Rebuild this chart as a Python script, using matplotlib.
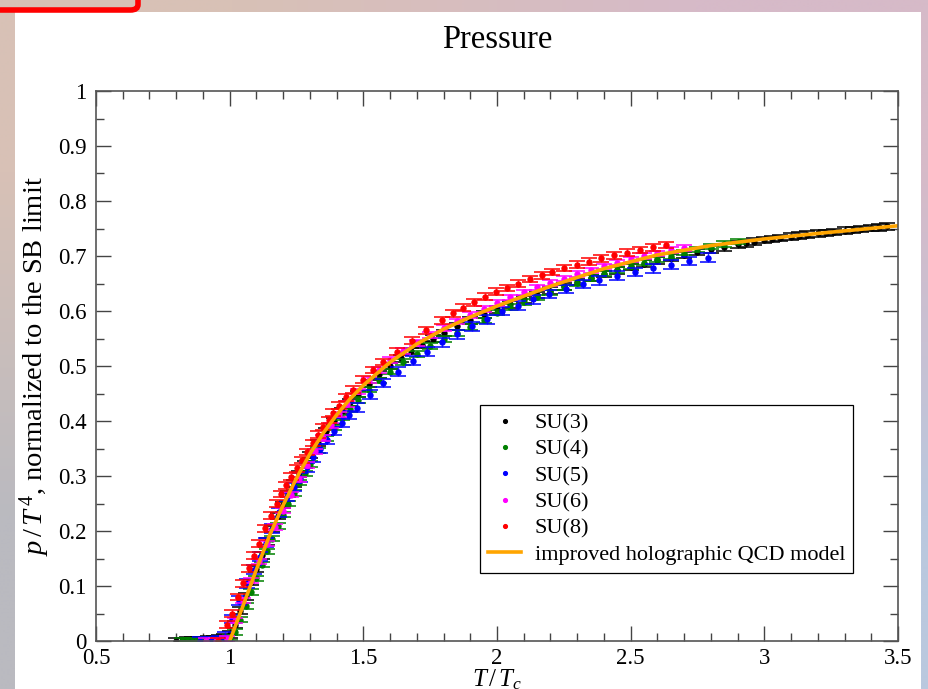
#!/usr/bin/env python
# Pressure p/T^4 of SU(N) gauge theories vs T/Tc, with the holographic curve
import numpy as np
import matplotlib
matplotlib.use('Agg')
from matplotlib import pyplot as plt
from matplotlib import patches

plt.rcParams['font.family'] = ['Liberation Serif', 'DejaVu Serif']
plt.rcParams['mathtext.fontset'] = 'custom'
plt.rcParams['mathtext.rm'] = 'Liberation Serif'
plt.rcParams['mathtext.it'] = 'Liberation Serif:italic'

# SU(3)
x3 = [0.80, 0.82, 0.84, 0.86, 0.88, 0.90, 0.92, 0.94, 0.96, 0.98, 1.00,
      1.02, 1.04, 1.06, 1.08, 1.10, 1.12, 1.14, 1.16, 1.18, 1.20, 1.22, 1.24,
      1.26, 1.28, 1.30, 1.33, 1.36, 1.39, 1.42, 1.45, 1.48, 1.52, 1.56, 1.60,
      1.64, 1.68, 1.72, 1.76, 1.80, 1.85, 1.90, 1.95, 2.00, 2.05, 2.10, 2.15,
      2.20, 2.25, 2.30, 2.35, 2.40, 2.45, 2.50, 2.55, 2.60, 2.65, 2.70, 2.75,
      2.80, 2.85, 2.90, 2.93, 2.96, 3.00, 3.03, 3.06, 3.10, 3.13, 3.16, 3.20,
      3.23, 3.26, 3.30, 3.33, 3.36, 3.40, 3.43, 3.46]
y3 = [0.000, 0.000, 0.001, 0.001, 0.002, 0.002, 0.003, 0.004, 0.005, 0.007, 0.012,
      0.030, 0.055, 0.081, 0.107, 0.131, 0.156, 0.181, 0.204, 0.227, 0.247, 0.267, 0.286,
      0.304, 0.321, 0.338, 0.360, 0.381, 0.400, 0.418, 0.434, 0.449, 0.468, 0.485, 0.500,
      0.514, 0.527, 0.539, 0.550, 0.560, 0.572, 0.583, 0.594, 0.603, 0.612, 0.621, 0.629,
      0.637, 0.645, 0.653, 0.660, 0.667, 0.674, 0.680, 0.686, 0.692, 0.697, 0.702, 0.707,
      0.712, 0.716, 0.721, 0.723, 0.726, 0.729, 0.731, 0.733, 0.735, 0.737, 0.739, 0.741,
      0.742, 0.744, 0.746, 0.747, 0.749, 0.751, 0.752, 0.754]

# SU(4)
x4 = [0.82, 0.84, 0.86, 0.88, 0.90, 0.92, 0.94, 0.96, 0.98, 1.00, 1.02, 1.04,
      1.06, 1.08, 1.10, 1.12, 1.14, 1.16, 1.18, 1.20, 1.22, 1.24, 1.26, 1.28,
      1.30, 1.33, 1.36, 1.39, 1.42, 1.45, 1.48, 1.52, 1.56, 1.60, 1.65, 1.70,
      1.75, 1.80, 1.85, 1.90, 1.95, 2.00, 2.05, 2.10, 2.15, 2.20, 2.25, 2.30,
      2.35, 2.40, 2.45, 2.50, 2.55, 2.60, 2.65, 2.70, 2.75, 2.80, 2.85, 2.90]
y4 = [0.000, 0.000, 0.000, 0.001, 0.001, 0.002, 0.002, 0.003, 0.004, 0.006, 0.016, 0.039,
      0.064, 0.089, 0.114, 0.139, 0.163, 0.186, 0.209, 0.230, 0.250, 0.269, 0.288, 0.305,
      0.322, 0.346, 0.368, 0.388, 0.406, 0.422, 0.438, 0.457, 0.474, 0.490, 0.507, 0.522,
      0.536, 0.549, 0.560, 0.571, 0.583, 0.597, 0.607, 0.616, 0.625, 0.634, 0.643, 0.651,
      0.660, 0.668, 0.675, 0.682, 0.688, 0.694, 0.700, 0.706, 0.712, 0.717, 0.722, 0.726]

# SU(5)
x5 = [0.89, 0.93, 0.96, 0.983, 1.008, 1.035, 1.064, 1.09, 1.113, 1.135, 1.157,
      1.186, 1.216, 1.24, 1.263, 1.288, 1.313, 1.338, 1.363, 1.39, 1.419, 1.447,
      1.475, 1.525, 1.575, 1.631, 1.685, 1.739, 1.793, 1.849, 1.906, 1.962, 2.020,
      2.078, 2.136, 2.196, 2.258, 2.321, 2.383, 2.450, 2.516, 2.583, 2.651, 2.720,
      2.791]
y5 = [0.000, 0.000, 0.002, 0.008, 0.040, 0.073, 0.105, 0.130, 0.153, 0.179, 0.204,
      0.234, 0.262, 0.280, 0.297, 0.316, 0.334, 0.350, 0.366, 0.382, 0.397, 0.411,
      0.424, 0.448, 0.469, 0.490, 0.510, 0.526, 0.543, 0.558, 0.572, 0.585, 0.600,
      0.610, 0.621, 0.631, 0.640, 0.649, 0.656, 0.664, 0.671, 0.678, 0.684, 0.691,
      0.697]

# SU(6)
x6 = [0.911, 0.949, 0.99, 1.02, 1.05, 1.08, 1.11, 1.14, 1.17, 1.20, 1.23, 1.26,
      1.29, 1.32, 1.35, 1.38, 1.41, 1.44, 1.48, 1.52, 1.56, 1.60, 1.65, 1.70,
      1.75, 1.80, 1.85, 1.90, 1.95, 2.00, 2.05, 2.10, 2.15, 2.20, 2.25, 2.30,
      2.35, 2.40, 2.45, 2.50, 2.55, 2.60, 2.65, 2.70]
y6 = [0.000, 0.000, 0.004, 0.037, 0.074, 0.110, 0.145, 0.177, 0.207, 0.237, 0.266, 0.294,
      0.320, 0.345, 0.369, 0.392, 0.412, 0.431, 0.454, 0.475, 0.493, 0.511, 0.527, 0.542,
      0.556, 0.569, 0.581, 0.593, 0.604, 0.615, 0.625, 0.634, 0.643, 0.651, 0.659, 0.667,
      0.674, 0.681, 0.688, 0.694, 0.700, 0.705, 0.711, 0.715]

# SU(8)
x8 = [0.957, 0.990, 1.010, 1.030, 1.050, 1.074, 1.092, 1.111, 1.132, 1.154, 1.176,
      1.193, 1.211, 1.231, 1.251, 1.270, 1.288, 1.310, 1.330, 1.350, 1.370, 1.388,
      1.410, 1.437, 1.463, 1.500, 1.537, 1.575, 1.627, 1.681, 1.735, 1.793, 1.837,
      1.874, 1.914, 1.955, 1.995, 2.036, 2.077, 2.124, 2.167, 2.207, 2.252, 2.298,
      2.345, 2.390, 2.437, 2.485, 2.535, 2.583, 2.633]
y8 = [0.000, 0.030, 0.050, 0.080, 0.105, 0.132, 0.155, 0.177, 0.205, 0.228, 0.250,
      0.267, 0.283, 0.299, 0.314, 0.329, 0.344, 0.360, 0.375, 0.389, 0.402, 0.415,
      0.428, 0.443, 0.457, 0.475, 0.493, 0.507, 0.526, 0.546, 0.565, 0.583, 0.596,
      0.606, 0.616, 0.626, 0.635, 0.642, 0.650, 0.658, 0.665, 0.671, 0.678, 0.684,
      0.690, 0.696, 0.701, 0.706, 0.711, 0.716, 0.720]

# improved holographic QCD model
x_ihqcd = [1.00, 1.05, 1.10, 1.15, 1.20, 1.25, 1.30, 1.35, 1.40, 1.45, 1.50, 1.60,
           1.70, 1.80, 1.90, 2.00, 2.10, 2.20, 2.40, 2.60, 2.80, 3.00, 3.20, 3.50]
y_ihqcd = [0.000, 0.064, 0.130, 0.193, 0.247, 0.296, 0.340, 0.378, 0.411, 0.440, 0.465, 0.507,
           0.540, 0.567, 0.589, 0.609, 0.627, 0.645, 0.677, 0.702, 0.719, 0.731, 0.741, 0.755]

series = [
    (x3, y3, 0.006, 'black', 'SU(3)'),
    (x4, y4, 0.005, 'green', 'SU(4)'),
    (x5, y5, 0.008, 'blue', 'SU(5)'),
    (x6, y6, 0.005, 'magenta', 'SU(6)'),
    (x8, y8, 0.006, 'red', 'SU(8)'),
]

fig = plt.figure(figsize=(9.29, 6.89), dpi=100)

# screenshot-like background: gradient border, white page, red frame corner
bg = fig.add_axes([0, 0, 1, 1])
grad = np.array([[[216, 193, 182], [214, 186, 200]],
                 [[186, 186, 192], [186, 200, 222]]]) / 255.0
bg.imshow(grad, extent=[0, 1, 0, 1], aspect='auto', interpolation='bilinear')
bg.add_patch(patches.Rectangle((15 / 929, 0), 906 / 929, 677 / 689,
                               facecolor='white', edgecolor='none'))
bg.add_patch(patches.FancyBboxPatch((-0.05, 1 - 10 / 689), 0.05 + 138 / 929, 0.1,
                                    boxstyle='round,pad=0,rounding_size=0.008',
                                    facecolor='none', edgecolor='#ff0000', linewidth=4))
bg.set_xlim(0, 1)
bg.set_ylim(0, 1)
bg.axis('off')

ax = fig.add_axes([96 / 929, 48 / 689, 802 / 929, 550 / 689])

for xs, ys, err, col, lab in series:
    ax.errorbar(xs, ys, yerr=err, fmt='none', ecolor=col, elinewidth=1,
                capsize=5.5, capthick=1.3, alpha=0.85)
    ax.plot(xs, ys, 'o', color=col, markersize=3.6, label=lab)

ax.plot(x_ihqcd, y_ihqcd, color='orange', linewidth=2.6,
        label='improved holographic QCD model')

ax.set_xlim(0.5, 3.5)
ax.set_ylim(0, 1)
ax.set_xticks([0.5, 1, 1.5, 2, 2.5, 3, 3.5])
ax.set_xticklabels(['0.5', '1', '1.5', '2', '2.5', '3', '3.5'])
ax.set_yticks(np.arange(0, 1.01, 0.1))
ax.set_yticklabels(['0', '0.1', '0.2', '0.3', '0.4', '0.5', '0.6', '0.7', '0.8', '0.9', '1'])
ax.set_xticks(np.arange(0.5, 3.51, 0.1), minor=True)
ax.set_yticks(np.arange(0, 1.001, 0.05), minor=True)
ax.tick_params(which='both', direction='in', top=True, right=True,
               color='#444444', labelsize=16.5)
ax.tick_params(axis='x', pad=5)
ax.tick_params(axis='y', pad=7)
ax.tick_params(which='major', length=11, width=1)
ax.tick_params(which='minor', length=6, width=1)
for sp in ax.spines.values():
    sp.set_color('#555555')
    sp.set_linewidth(1.2)

ax.set_title('Pressure', fontsize=23.5, pad=31)
ax.set_xlabel(r'$T\,/\,T_c$', fontsize=18, labelpad=-1)
ax.set_ylabel(r'$p\,/\,T^{\,4}$, normalized to the SB limit', fontsize=20.5, labelpad=4)

leg = ax.legend(loc='lower right', bbox_to_anchor=(0.944, 0.124), borderaxespad=0,
                fontsize=16, fancybox=False, framealpha=1, edgecolor='black',
                handlelength=1.5, handletextpad=0.6, markerscale=0.75,
                labelspacing=0.26, borderpad=0.35)
leg.get_frame().set_linewidth(0.9)

plt.savefig('out.png', dpi=100)
